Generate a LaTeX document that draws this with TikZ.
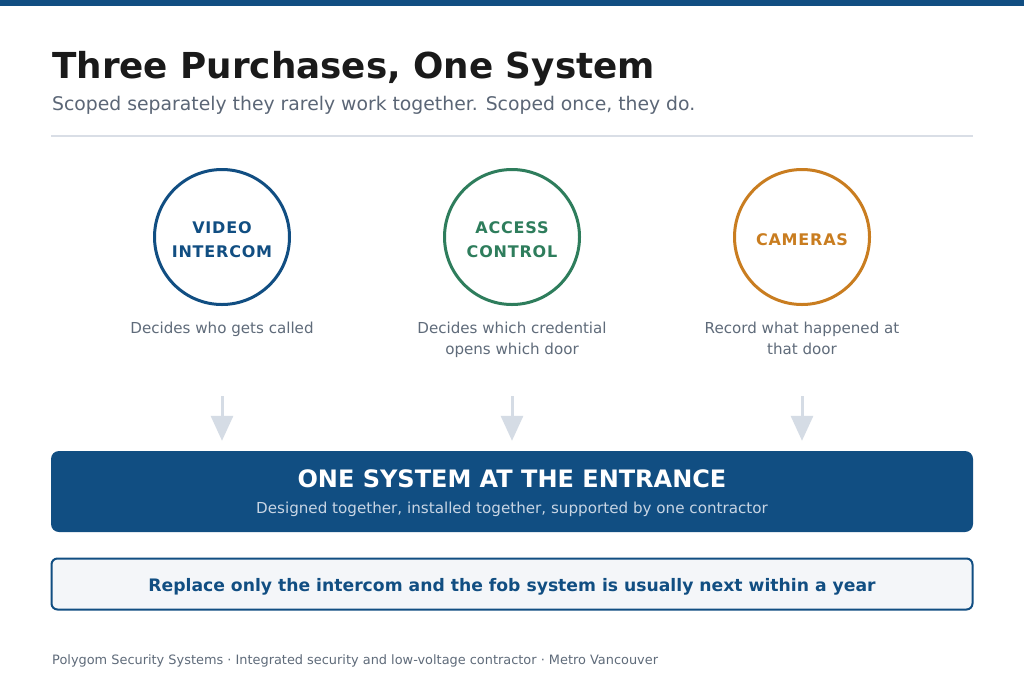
\documentclass[tikz,border=0pt]{standalone}
\usepackage{fontspec}
\setmainfont{DejaVu Sans}
\usetikzlibrary{arrows.meta}
\definecolor{brand}{HTML}{114E82}
\definecolor{accgreen}{HTML}{2E7D5C}
\definecolor{accorange}{HTML}{C97D20}
\definecolor{titlecol}{HTML}{1A1A1A}
\definecolor{subcol}{HTML}{5B6676}
\definecolor{desccol}{HTML}{5F6B7A}
\definecolor{rulecol}{HTML}{D9DEE6}
\definecolor{arrowcol}{HTML}{D5DCE5}
\definecolor{boxsub}{HTML}{C8D5E4}
\definecolor{calloutfill}{HTML}{F4F6F9}
\newfontfamily\labelfont[LetterSpace=5]{DejaVu Sans}
\tikzset{
  ring/.style={circle, draw=#1, line width=3pt, minimum size=135pt, inner sep=0pt},
  ringlabel/.style={text=#1, align=center, inner sep=0pt,
    font=\labelfont\bfseries\fontsize{16}{24}\selectfont},
  desc/.style={anchor=base, align=center, text=desccol, inner sep=0pt,
    font=\fontsize{15.1}{21}\selectfont},
  downarrow/.style={draw=arrowcol, line width=3pt, -{Triangle[width=22pt,length=25pt]}, shorten >=10pt},
}
\begin{document}
\begin{tikzpicture}[x=1pt,y=-1pt]
\useasboundingbox (0,0) rectangle (1024,683);
\fill[white] (0,0) rectangle (1024,683);
% top bar
\fill[brand] (0,0) rectangle (1024,6);
% title
\node[anchor=base west, inner sep=0pt, text=titlecol, font=\bfseries\fontsize{35.75}{43}\selectfont] (title) at (52,78) {Three Purchases, One System};
\node[anchor=base west, inner sep=0pt, text=subcol, font=\fontsize{18.8}{22}\selectfont] (subtitle) at (52,110) {Scoped separately they rarely work together. Scoped once, they do.};
\draw[rulecol, line width=2pt] (51,136) -- (973,136);
% circles
\node[ring=brand] (c1) at (222,237) {};
\node[ring=accgreen] (c2) at (512,237) {};
\node[ring=accorange] (c3) at (802,237) {};
\node[ringlabel=brand] (l1) at (222,240) {VIDEO\\INTERCOM};
\node[ringlabel=accgreen] (l2) at (512,240) {ACCESS\\CONTROL};
\node[ringlabel=accorange] (l3) at (802,240) {CAMERAS};
% descriptions
\node[desc] (d1) at (222,333) {Decides who gets called};
\node[desc] (d2) at (512,354) {Decides which credential\\opens which door};
\node[desc] (d3) at (802,354) {Record what happened at\\that door};
% main box
\node[rectangle, rounded corners=8pt, fill=brand, minimum width=922pt, minimum height=81pt, inner sep=0pt] (main) at (512,491.5) {};
\node[anchor=base, inner sep=0pt, text=white, font=\bfseries\fontsize{24}{28}\selectfont] (maintitle) at (512,487) {ONE SYSTEM AT THE ENTRANCE};
\node[anchor=base, inner sep=0pt, text=boxsub, font=\fontsize{15.15}{18}\selectfont] (mainsub) at (512,513) {Designed together, installed together, supported by one contractor};
% arrows
\coordinate (a1) at (222,396);
\coordinate (a2) at (512,396);
\coordinate (a3) at (802,396);
\draw[downarrow] (a1) -- (a1 |- main.north);
\draw[downarrow] (a2) -- (a2 |- main.north);
\draw[downarrow] (a3) -- (a3 |- main.north);
% callout
\node[rectangle, rounded corners=6pt, draw=brand, line width=2pt, fill=calloutfill, minimum width=921pt, minimum height=51pt, inner sep=0pt] (callout) at (512,584) {};
\node[anchor=base, inner sep=0pt, text=brand, font=\bfseries\fontsize{17.2}{20}\selectfont] (callouttext) at (512,591) {Replace only the intercom and the fob system is usually next within a year};
% footer
\node[anchor=base west, inner sep=0pt, text=desccol, font=\fontsize{12.9}{15}\selectfont] (footer) at (52,664) {Polygom Security Systems · Integrated security and low-voltage contractor · Metro Vancouver};
\end{tikzpicture}
\end{document}
